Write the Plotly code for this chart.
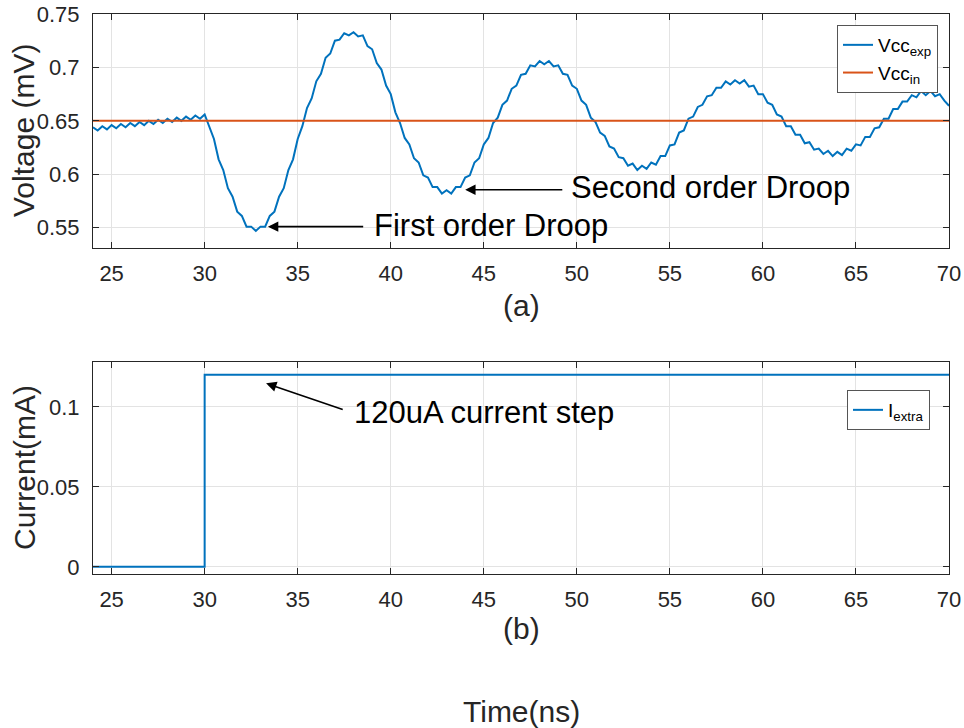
import plotly.graph_objects as go

# ---------------- data ----------------
t_start = 24.0
t_step = 0.25
vcc_exp = [
    0.644, 0.641, 0.645, 0.642, 0.646, 0.643, 0.647, 0.644, 0.648, 0.645,   # 24.00-26.25
    0.649, 0.646, 0.650, 0.647, 0.651, 0.648, 0.652, 0.649, 0.653, 0.650,   # 26.50-28.75
    0.654, 0.651, 0.655, 0.652, 0.656,                                      # 29.00-30.00
    0.645, 0.633, 0.614, 0.604, 0.587, 0.579, 0.565, 0.561, 0.551, 0.551,   # 30.25-32.50
    0.547, 0.551, 0.551, 0.561, 0.565, 0.579, 0.587, 0.604, 0.614, 0.633,   # 32.75-35.00
    0.645, 0.662, 0.671, 0.687, 0.694, 0.709, 0.713, 0.725, 0.726, 0.732,   # 35.25-37.50
    0.730, 0.733, 0.729, 0.730, 0.720, 0.717, 0.704, 0.698, 0.683, 0.675,   # 37.75-40.00
    0.658, 0.648, 0.634, 0.628, 0.615, 0.611, 0.599, 0.597, 0.588, 0.588,   # 40.25-42.50
    0.582, 0.585, 0.582, 0.588, 0.588, 0.597, 0.599, 0.611, 0.615, 0.628,   # 42.75-45.00
    0.634, 0.648, 0.653, 0.665, 0.669, 0.680, 0.683, 0.693, 0.694, 0.702,   # 45.25-47.50
    0.701, 0.706, 0.703, 0.706, 0.701, 0.702, 0.694, 0.693, 0.683, 0.680,   # 47.75-50.00
    0.669, 0.665, 0.653, 0.649, 0.639, 0.636, 0.626, 0.624, 0.616, 0.615,   # 50.25-52.50
    0.608, 0.610, 0.604, 0.608, 0.605, 0.611, 0.609, 0.617, 0.617, 0.627,   # 52.75-55.00
    0.628, 0.639, 0.641, 0.652, 0.654, 0.663, 0.665, 0.673, 0.674, 0.681,   # 55.25-57.50
    0.681, 0.687, 0.684, 0.688, 0.685, 0.688, 0.682, 0.683, 0.675, 0.675,   # 57.75-60.00
    0.667, 0.665, 0.656, 0.654, 0.645, 0.645, 0.637, 0.637, 0.629, 0.630,   # 60.25-62.50
    0.623, 0.624, 0.619, 0.622, 0.617, 0.621, 0.618, 0.624, 0.622, 0.628,   # 62.75-65.00
    0.627, 0.635, 0.635, 0.643, 0.644, 0.652, 0.652, 0.661, 0.661, 0.668,   # 65.25-67.50
    0.668, 0.674, 0.672, 0.678, 0.674, 0.678, 0.673, 0.675, 0.669, 0.664,   # 67.75-70.00
]
time_exp = [round(t_start + i * t_step, 2) for i in range(len(vcc_exp))]

time_in = [24, 70]
vcc_in = [0.65, 0.65]

time_i = [24, 30, 30, 70]
i_extra = [0.0, 0.0, 0.12, 0.12]

x_ticks = [25, 30, 35, 40, 45, 50, 55, 60, 65, 70]
v_ticks = [0.55, 0.6, 0.65, 0.7, 0.75]
v_tick_labels = ["0.55", "0.6", "0.65", "0.7", "0.75"]
i_ticks = [0, 0.05, 0.1]
i_tick_labels = ["0", "0.05", "0.1"]

# ---------------- figure ----------------
W, H = 964, 728
BLUE = "#0072BD"
ORANGE = "#D95319"
AX = "#262626"
GRID = "#e3e3e3"
FONT = "Liberation Sans, Arial, sans-serif"

def px_x(p):
    return p / W

def px_y(p):
    return 1 - p / H

fig = go.Figure()
fig.add_trace(go.Scatter(x=time_exp, y=vcc_exp, mode="lines", name="Vcc<sub>exp</sub>",
                         line=dict(color=BLUE, width=2), xaxis="x", yaxis="y", legend="legend"))
fig.add_trace(go.Scatter(x=time_in, y=vcc_in, mode="lines", name="Vcc<sub>in</sub>",
                         line=dict(color=ORANGE, width=2), xaxis="x", yaxis="y", legend="legend"))
fig.add_trace(go.Scatter(x=time_i, y=i_extra, mode="lines", name="I<sub>extra</sub>",
                         line=dict(color=BLUE, width=2), xaxis="x2", yaxis="y2", legend="legend2"))

axis_common = dict(showline=True, linecolor=AX, linewidth=1, mirror="ticks",
                   ticks="inside", ticklen=6, tickcolor=AX, showgrid=True,
                   gridcolor=GRID, gridwidth=1, zeroline=False, automargin=False,
                   tickfont=dict(family=FONT, size=22, color=AX))

fig.update_layout(
    template="none",
    width=W, height=H, autosize=False,
    margin=dict(l=0, r=0, t=0, b=0, pad=0, autoexpand=False),
    paper_bgcolor="white", plot_bgcolor="white",
    font=dict(family=FONT, color=AX),
    xaxis=dict(domain=[px_x(93), px_x(949)], range=[24, 70], tickvals=x_ticks,
               anchor="y", ticklabelstandoff=6, **axis_common),
    yaxis=dict(domain=[px_y(248), px_y(14)], range=[0.531, 0.75], tickvals=v_ticks,
               ticktext=v_tick_labels, anchor="x", ticklabelstandoff=8, **axis_common),
    xaxis2=dict(domain=[px_x(93), px_x(949)], range=[24, 70], tickvals=x_ticks,
                anchor="y2", ticklabelstandoff=6, **axis_common),
    yaxis2=dict(domain=[px_y(574), px_y(362)], range=[-0.0045, 0.128], tickvals=i_ticks,
                ticktext=i_tick_labels, anchor="x2", ticklabelstandoff=8, **axis_common),
    legend=dict(x=px_x(938), y=px_y(25), xanchor="right", yanchor="top",
                bgcolor="white", bordercolor="#555555", borderwidth=1,
                font=dict(family=FONT, size=19, color="black"), tracegroupgap=0,
                itemwidth=30),
    legend2=dict(x=px_x(930), y=px_y(390), xanchor="right", yanchor="top",
                 bgcolor="white", bordercolor="#555555", borderwidth=1,
                 font=dict(family=FONT, size=19, color="black"), itemwidth=30),
    showlegend=True,
)

# arrows (head at data point, tail in data coords)
arrow_kw = dict(showarrow=True, arrowhead=2, arrowsize=1.3, arrowwidth=1.6,
                arrowcolor="black", text="")
fig.add_annotation(x=33.4, y=0.551, ax=38.6, ay=0.551, xref="x", yref="y",
                   axref="x", ayref="y", **arrow_kw)
fig.add_annotation(x=44.0, y=0.5855, ax=49.3, ay=0.5855, xref="x", yref="y",
                   axref="x", ayref="y", **arrow_kw)
fig.add_annotation(x=33.3, y=0.1147, ax=37.5, ay=0.098, xref="x2", yref="y2",
                   axref="x2", ayref="y2", **arrow_kw)

text_kw = dict(showarrow=False, font=dict(family=FONT, size=31, color="black"))
fig.add_annotation(x=39.0, y=0.552, xref="x", yref="y", xanchor="left", yanchor="middle",
                   text="First order Droop", **text_kw)
fig.add_annotation(x=49.6, y=0.588, xref="x", yref="y", xanchor="left", yanchor="middle",
                   text="Second order Droop", **text_kw)
fig.add_annotation(x=37.9, y=0.0965, xref="x2", yref="y2", xanchor="left", yanchor="middle",
                   text="120uA current step", **text_kw)

label_kw = dict(showarrow=False, xref="paper", yref="paper", xanchor="center",
                yanchor="middle", font=dict(family=FONT, size=30, color=AX))
fig.add_annotation(x=px_x(23), y=px_y(131), text="Voltage (mV)", textangle=-90, **label_kw)
fig.add_annotation(x=px_x(24), y=px_y(468), text="Current(mA)", textangle=-90, **label_kw)
fig.add_annotation(x=px_x(521), y=px_y(305), text="(a)", **label_kw)
fig.add_annotation(x=px_x(521), y=px_y(628), text="(b)", **label_kw)
fig.add_annotation(x=px_x(521), y=px_y(711), text="Time(ns)", **label_kw)

fig.write_html("out.html")
